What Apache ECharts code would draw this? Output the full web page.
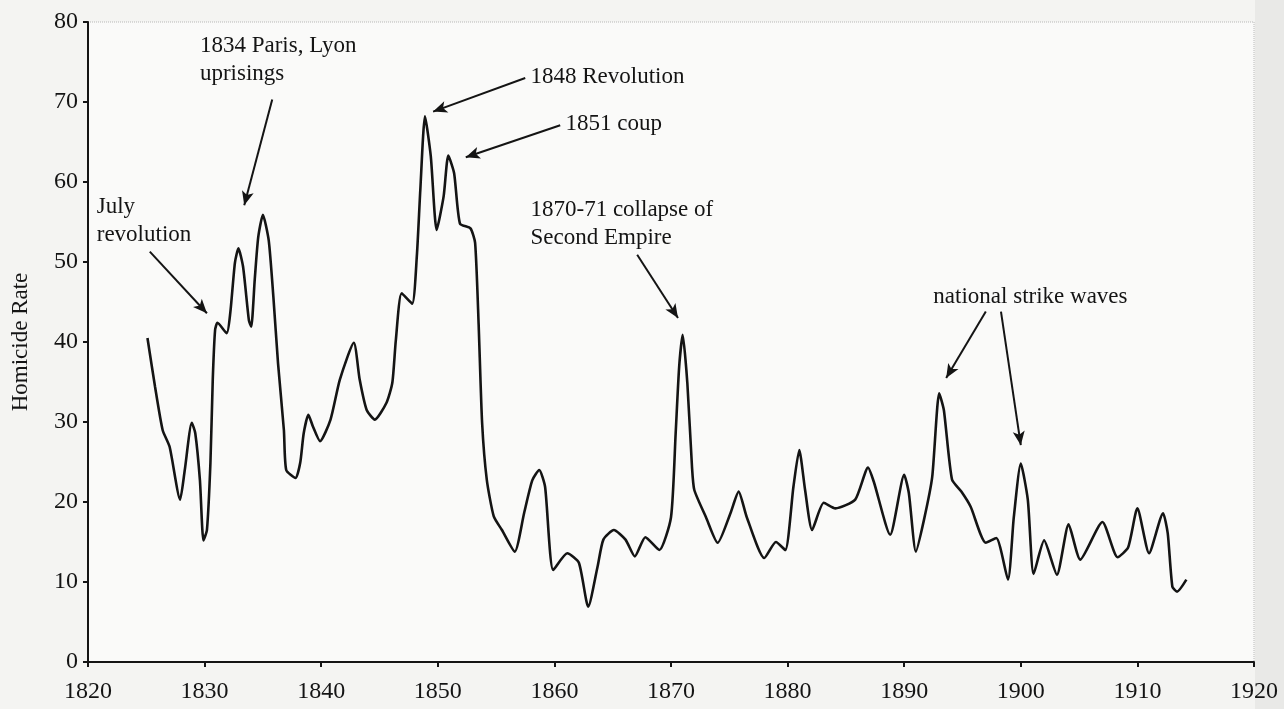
<!DOCTYPE html>
<html>
<head>
<meta charset="utf-8">
<script src="https://cdn.jsdelivr.net/npm/echarts@6/dist/echarts.min.js"></script>
<style>
  html, body { margin: 0; padding: 0; background: #f4f4f2; }
  #chart { width: 1284px; height: 709px; }
</style>
</head>
<body>
<div id="chart"></div>
<script>
// homicide rate
const years = [
  1825.1, 1825.75, 1826.4, 1827.0, 1827.9, 1828.3, 1828.9, 1829.2, 1829.6, 1829.9,
  1830.2, 1830.5, 1830.7, 1830.9, 1831.1, 1831.9, 1832.2, 1832.6, 1832.9, 1833.3,
  1833.8, 1834.0, 1834.3, 1834.6, 1835.0, 1835.5, 1835.9, 1836.3, 1836.8, 1837.0,
  1837.8, 1838.2, 1838.5, 1838.9, 1839.3, 1839.9, 1840.8, 1841.6, 1842.8, 1843.3,
  1843.9, 1844.6, 1845.6, 1846.1, 1846.4, 1846.9, 1847.8, 1848.2, 1848.5, 1848.9,
  1849.4, 1849.9, 1850.5, 1850.9, 1851.4, 1851.9, 1852.8, 1853.2, 1853.5, 1853.8,
  1854.2, 1854.8, 1855.5, 1856.6, 1857.4, 1858.1, 1858.7, 1859.2, 1859.9, 1861.1,
  1862.1, 1862.9, 1863.7, 1864.2, 1865.1, 1866.1, 1866.9, 1867.8, 1869.0, 1870.0,
  1870.4, 1870.7, 1871.0, 1871.4, 1871.8, 1872.0, 1873.0, 1874.0, 1875.1, 1875.8,
  1876.5, 1878.0, 1879.0, 1879.8, 1880.5, 1881.0, 1881.5, 1882.1, 1883.1, 1884.1,
  1885.8, 1886.9, 1887.4, 1888.8, 1890.0, 1890.4, 1891.0, 1891.7, 1892.4, 1893.0,
  1893.4, 1894.1, 1894.9, 1895.7, 1897.0, 1897.9, 1898.9, 1899.4, 1900.0, 1900.6,
  1901.1, 1902.0, 1903.1, 1904.1, 1905.1, 1907.0, 1908.3, 1909.2, 1910.0, 1911.0,
  1912.2, 1912.6, 1913.0, 1913.4, 1914.2
];
const rates = [
  40.5, 34.4, 29.0, 26.9, 20.3, 24.0, 29.9, 28.6, 22.7, 15.2,
  16.5, 24.9, 35.3, 41.5, 42.4, 41.1, 43.6, 49.9, 51.7, 49.4,
  42.7, 41.9, 47.8, 53.1, 55.9, 52.7, 45.6, 37.3, 29.0, 24.0,
  23.0, 24.9, 28.6, 30.9, 29.4, 27.6, 30.3, 35.3, 39.9, 35.3,
  31.5, 30.3, 32.4, 34.9, 40.2, 46.1, 44.8, 50.7, 59.0, 68.2,
  63.2, 54.0, 58.2, 63.3, 61.1, 54.8, 54.2, 52.4, 42.3, 29.9,
  22.8, 18.2, 16.5, 13.8, 18.6, 22.7, 24.0, 21.9, 11.5, 13.6,
  12.4, 6.9, 11.9, 15.3, 16.5, 15.3, 13.2, 15.6, 14.0, 18.1,
  28.6, 36.9, 40.9, 34.9, 24.4, 21.5, 18.1, 14.9, 18.6, 21.3,
  18.1, 13.0, 15.0, 14.0, 21.9, 26.5, 21.5, 16.5, 19.9, 19.2,
  20.3, 24.3, 22.5, 15.9, 23.4, 21.1, 13.8, 17.8, 23.1, 33.6,
  31.5, 22.8, 21.3, 19.4, 14.9, 15.5, 10.3, 18.1, 24.8, 20.3,
  11.0, 15.2, 10.9, 17.2, 12.8, 17.5, 13.1, 14.3, 19.2, 13.6,
  18.6, 16.1, 9.4, 8.8, 10.3
];

// annotations: text and its anchor (year, rate)
const noteText = [
  "July\nrevolution",
  "1834 Paris, Lyon\nuprisings",
  "1848 Revolution",
  "1851 coup",
  "1870-71 collapse of\nSecond Empire",
  "national strike waves"
];
const noteYear = [1820.75, 1829.6, 1857.95, 1860.95, 1857.95, 1892.5];
const noteRate = [55.1, 75.2, 73.1, 67.3, 54.8, 45.6];

// arrows: tail -> head, in (year, rate)
const arrowFrom = [[1825.3, 51.3], [1835.8, 70.3], [1857.5, 73.0], [1860.5, 67.1], [1867.1, 50.9], [1897.0, 43.8], [1898.3, 43.8]];
const arrowTo = [[1830.2, 43.6], [1833.4, 57.1], [1849.6, 68.8], [1852.4, 63.1], [1870.6, 43.0], [1893.6, 35.5], [1900.0, 27.1]];

const xTicks = { min: 1820, max: 1920, step: 10 };
const yTicks = { min: 0, max: 80, step: 10 };

const chart = echarts.init(document.getElementById("chart"));
const serif = "'Liberation Serif', 'Times New Roman', serif";
const ink = "#141414";

chart.setOption({
  backgroundColor: "#f4f4f2",
  animation: false,
  grid: {
    left: 88,
    right: 30,
    top: 22,
    bottom: 47,
    show: true,
    backgroundColor: "#fafaf9",
    borderColor: "#b8b8b8",
    borderWidth: 1,
    borderType: "dotted"
  },
  graphic: [
    { type: "rect", right: 0, top: 0, shape: { width: 29, height: 709 }, style: { fill: "#e9e9e7" }, z: -1 }
  ],
  xAxis: {
    type: "value",
    min: xTicks.min,
    max: xTicks.max,
    interval: xTicks.step,
    axisLine: { show: true, lineStyle: { color: ink, width: 2 } },
    axisTick: { show: true, length: 5, lineStyle: { color: ink, width: 2 } },
    axisLabel: { color: ink, fontFamily: serif, fontSize: 24, margin: 18, formatter: (v) => String(v) },
    splitLine: { show: false }
  },
  yAxis: {
    type: "value",
    min: yTicks.min,
    max: yTicks.max,
    interval: yTicks.step,
    name: "Homicide Rate",
    nameLocation: "middle",
    nameRotate: 90,
    nameGap: 56,
    nameTextStyle: { color: ink, fontFamily: serif, fontSize: 23 },
    axisLine: { show: true, lineStyle: { color: ink, width: 2 } },
    axisTick: { show: true, length: 5, lineStyle: { color: ink, width: 2 } },
    axisLabel: { color: ink, fontFamily: serif, fontSize: 24, margin: 10 },
    splitLine: { show: false }
  },
  series: [
    {
      type: "line",
      data: years.map((y, i) => [y, rates[i]]),
      showSymbol: false,
      smooth: 0.2,
      lineStyle: { color: ink, width: 2.6 },
      markPoint: {
        symbol: "circle",
        symbolSize: 0,
        silent: true,
        label: {
          show: true,
          position: "right",
          distance: 0,
          color: ink,
          fontFamily: serif,
          fontSize: 23,
          lineHeight: 28,
          formatter: (p) => p.name
        },
        data: noteText.map((t, i) => ({ name: t, coord: [noteYear[i], noteRate[i]] }))
      },
      markLine: {
        silent: true,
        symbol: ["none", "arrow"],
        symbolSize: 13,
        label: { show: false },
        lineStyle: { color: ink, width: 2, type: "solid" },
        emphasis: { disabled: true },
        data: arrowFrom.map((a, i) => [
          { coord: a, symbol: "none" },
          { coord: arrowTo[i], symbol: "arrow", symbolSize: [9, 14] }
        ])
      }
    }
  ]
});
</script>
</body>
</html>
